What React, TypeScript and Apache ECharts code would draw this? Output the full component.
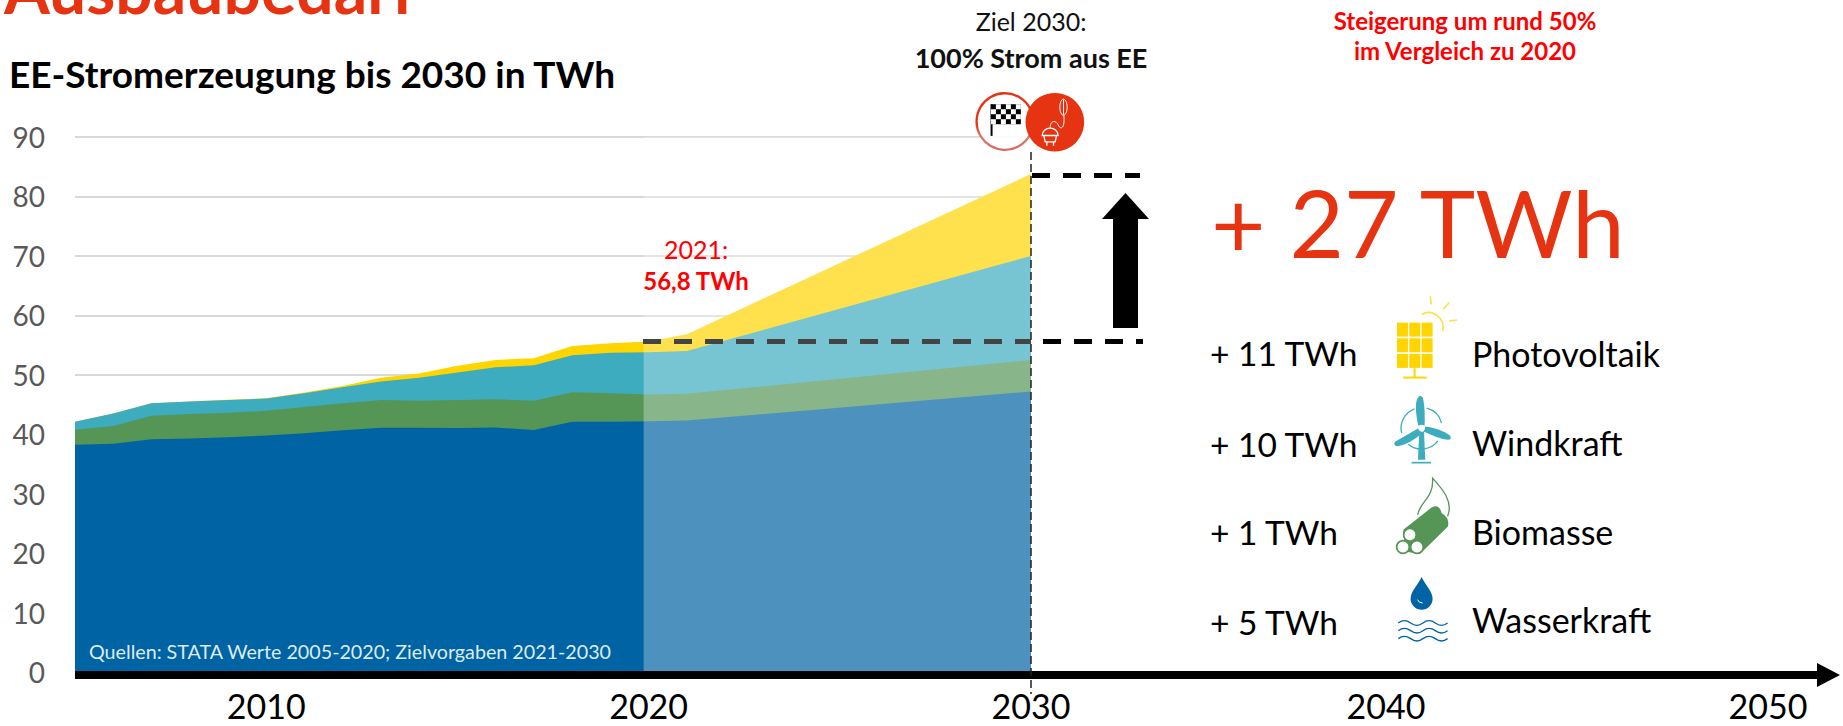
import React, { useEffect, useRef } from "react";
import * as echarts from "echarts";

// ---------- data ----------
const years = [2005, 2006, 2007, 2008, 2009, 2010, 2011, 2012, 2013, 2014, 2015, 2016, 2017, 2018, 2019, 2020, 2021, 2030];
const wasserkraft = [38.25, 38.4, 39.15, 39.3, 39.5, 39.8, 40.15, 40.65, 41.1, 41.1, 41.05, 41.15, 40.7, 42.1, 42.1, 42.2, 42.3, 47.2];
const biomasse = [2.5, 3.0, 3.95, 4.1, 4.1, 4.15, 4.45, 4.55, 4.65, 4.55, 4.7, 4.75, 4.95, 4.95, 4.8, 4.5, 4.5, 5.3];
const windkraft = [1.35, 2.1, 2.1, 2.1, 2.15, 2.05, 2.3, 2.7, 3.1, 3.85, 4.65, 5.35, 5.95, 6.25, 6.8, 7.1, 7.2, 17.5];
const photovoltaik = [0, 0, 0, 0, 0.05, 0.05, 0.1, 0.2, 0.65, 0.7, 1.1, 1.25, 1.2, 1.55, 1.6, 1.8, 2.8, 13.8];
const axisTicks = [2010, 2020, 2030];
const laterTicks = ["2040", "2050"];
const rowDeltas = ["+ 11 TWh", "+ 10 TWh", "+ 1 TWh", "+ 5 TWh"];
const rowNames = ["Photovoltaik", "Windkraft", "Biomasse", "Wasserkraft"];

// ---------- styling ----------
const C_BLUE = "#0063A3";
const C_GREEN = "#559656";
const C_TEAL = "#3DACBF";
const C_YELLOW = "#FFD500";
const C_RED = "#E63312";
const FONT = "Lato";

const paths: Record<string, string> = {
  iSun: "M155 88 A44 44 0 0 1 218 138",
  iWindUp: "M145 422 C137 385 134 350 145 337 Q150 328 158 337 C165 360 165 395 164 422 Z",
  iWindRight: "M165 425 C195 428 225 440 240 452 Q247 462 236 465 C215 465 185 450 160 440 Z",
  iWindLeft: "M145 430 C120 445 90 462 76 470 Q68 480 80 484 C105 482 135 465 155 445 Z",
  iWindTower: "M148 440 L144 525 L166 525 L162 440 Z",
  iWindArcs: "M170 370 A62 62 0 0 1 215 415 M204 468 A62 62 0 0 1 115 478 M95 445 A62 62 0 0 1 134 372",
  iLogs: "M100 735 L185 668 Q208 655 215 685 Q240 700 234 725 L150 808 L105 800 Z",
  iLeaf: "M143 690 C150 650 192 640 188 580 C215 610 252 650 233 695",
  iDrop: "M155 877 C165 900 188 920 188 942 A33 33 0 0 1 122 942 C122 920 145 900 155 877 Z",
  iDropHi: "M143 945 Q146 955 158 955",
  iWaves: "M85 1015 q18 -14 37 0 t37 0 t37 0 t37 0 M85 1038 q18 -14 37 0 t37 0 t37 0 t37 0 M85 1062 q18 -14 37 0 t37 0 t37 0 t37 0",
  iPlug: "M457 407 a24 22 0 0 1 48 0 Z M462 407 L466 426 L496 426 L500 407 M471 426 L471 438 M491 426 L491 438",
  iCord: "M481 385 C481 358 500 362 505 375 C512 392 526 385 522 347 M521 300 L521 345",
};
Object.keys(paths).forEach((k) => {
  echarts.graphic.registerShape(k, echarts.graphic.extendPath(paths[k], {}) as any);
});

const Z = 100;
const txt = (text: string, x: number, y: number, font: string, fill: string, align = "left") => ({
  type: "text",
  z: Z,
  x,
  y,
  style: { text, font, fill, align, verticalAlign: "middle" },
});
const line = (x1: number, y1: number, x2: number, y2: number, stroke: string, lineWidth: number, lineDash?: number[]) => ({
  type: "line",
  z: Z,
  shape: { x1, y1, x2, y2 },
  style: { stroke, lineWidth, lineDash },
});
const rect = (x: number, y: number, width: number, height: number, fill: string) => ({
  type: "rect",
  z: Z,
  shape: { x, y, width, height },
  style: { fill },
});
const poly = (points: number[][], fill: string) => ({ type: "polygon", z: Z, shape: { points }, style: { fill } });
const shp = (type: string, style: any) => ({ type, z: Z, style });
const circ = (cx: number, cy: number, r: number, style: any) => ({ type: "circle", z: Z, shape: { cx, cy, r }, style });

function buildFlagGroup() {
  const cells: any[] = [rect(303, 313, 90, 60, "#000")];
  for (let r = 0; r < 4; r++) for (let c = 0; c < 6; c++) if ((r + c) % 2) cells.push(rect(303 + c * 15, 313 + r * 15, 15, 15, "#fff"));
  return {
    type: "group",
    x: 890,
    y: 0,
    scaleX: 1 / 3,
    scaleY: 1 / 3,
    children: [
      circ(345, 365, 85, {
        fill: "rgba(255,255,255,0.85)",
        lineWidth: 7,
        stroke: new echarts.graphic.LinearGradient(0, 0, 0, 1, [
          { offset: 0, color: C_RED },
          { offset: 0.55, color: C_RED },
          { offset: 0.75, color: "#DB7A70" },
          { offset: 1, color: "#DB6A60" },
        ]),
      }),
      rect(302, 313, 6, 95, "#000"),
      ...cells,
      circ(495, 367, 88, { fill: C_RED }),
      shp("iPlug", { fill: "none", stroke: "#fff", lineWidth: 4 }),
      shp("iCord", { fill: "none", stroke: "#fff", lineWidth: 3 }),
      { type: "ellipse", z: Z, shape: { cx: 521, cy: 322, rx: 11, ry: 24 }, style: { fill: "none", stroke: "#fff", lineWidth: 3 } },
    ],
  };
}

function buildIconGroup() {
  const cells: any[] = [];
  for (let r = 0; r < 3; r++) for (let c = 0; c < 3; c++) cells.push(rect(81 + c * 37, 113 + r * 47, 33, 42, C_YELLOW));
  return {
    type: "group",
    x: 1370,
    y: 285,
    scaleX: 1 / 3,
    scaleY: 1 / 3,
    children: [
      ...cells,
      rect(131, 250, 6, 28, C_YELLOW),
      rect(100, 275, 70, 6, C_YELLOW),
      shp("iSun", { fill: "none", stroke: "#FFE04A", lineWidth: 5 }),
      line(181, 33, 184, 58, "#FFE04A", 5),
      line(238, 53, 220, 72, "#FFE04A", 5),
      line(262, 105, 237, 108, "#FFE04A", 5),

      shp("iWindArcs", { fill: "none", stroke: C_TEAL, lineWidth: 4 }),
      shp("iWindTower", { fill: C_TEAL }),
      shp("iWindUp", { fill: C_TEAL }),
      shp("iWindRight", { fill: C_TEAL }),
      shp("iWindLeft", { fill: C_TEAL }),
      circ(155, 430, 10, { fill: "#fff" }),
      rect(125, 531, 58, 5, C_TEAL),

      shp("iLeaf", { fill: "none", stroke: C_GREEN, lineWidth: 4 }),
      shp("iLogs", { fill: C_GREEN }),
      circ(120, 750, 19, { fill: "#fff", stroke: C_GREEN, lineWidth: 5 }),
      circ(99, 787, 19, { fill: "#fff", stroke: C_GREEN, lineWidth: 5 }),
      circ(141, 787, 19, { fill: "#fff", stroke: C_GREEN, lineWidth: 5 }),

      shp("iDrop", { fill: C_BLUE }),
      shp("iDropHi", { fill: "none", stroke: "#fff", lineWidth: 3 }),
      shp("iWaves", { fill: "none", stroke: C_BLUE, lineWidth: 4 }),
    ],
  };
}

const rowY = [353, 444, 532, 622];
const nameY = [353, 442, 531, 619];

function buildGraphic() {
  return [
    // titles
    txt("Ausbaubedarf", 4, -12, `bold 66px ${FONT}`, C_RED),
    txt("EE-Stromerzeugung bis 2030 in TWh", 9, 73, `bold 37px ${FONT}`, "#000"),
    txt("Ziel 2030:", 1031, 21, `25px ${FONT}`, "#111", "center"),
    txt("100% Strom aus EE", 1031, 57, `bold 27px ${FONT}`, "#111", "center"),
    txt("Steigerung um rund 50%", 1465, 20, `bold 24px ${FONT}`, "#FF0000", "center"),
    txt("im Vergleich zu 2020", 1465, 50, `bold 24px ${FONT}`, "#FF0000", "center"),
    txt("2021:", 696, 249, `25px ${FONT}`, "#FF0000", "center"),
    txt("56,8 TWh", 696, 280, `bold 24px ${FONT}`, "#FF0000", "center"),
    txt("Quellen: STATA Werte 2005-2020; Zielvorgaben 2021-2030", 89, 651, `19.7px ${FONT}`, "#DDEBF4"),
    // time arrow
    rect(75, 671, 1742, 8, "#000"),
    poly([[1817, 663], [1840, 675], [1817, 687]], "#000"),
    ...laterTicks.map((t, i) => txt(t, [1386, 1768][i], 705, `34px ${FONT}`, "#000", "center")),
    // 2030 marker
    line(1031, 152, 1031, 694, "#222", 1.5, [8, 4]),
    // baseline / target dashes
    line(643, 341.5, 1031, 341.5, "#444", 5, [18, 13]),
    line(1043, 341.5, 1143, 341.5, "#000", 5, [18, 13]),
    line(1032, 175.5, 1140, 175.5, "#000", 5, [18, 13]),
    // black up arrow
    rect(1113, 218, 25, 110, "#000"),
    poly([[1102, 219], [1125.5, 193], [1149, 219]], "#000"),
    // big number
    txt("+ 27 TWh", 1211, 221, `94px ${FONT}`, C_RED),
    ...rowDeltas.map((t, i) => txt(t, 1210, rowY[i], `33.5px ${FONT}`, "#000")),
    ...rowNames.map((t, i) => txt(t, 1472, nameY[i], `34px ${FONT}`, "#000")),
    buildFlagGroup(),
    buildIconGroup(),
  ];
}

// Each layer is filled from zero up to the running total of the layers below it.
const layers = [
  { name: "Wasserkraft", vals: wasserkraft, color: C_BLUE },
  { name: "Biomasse", vals: biomasse, color: C_GREEN },
  { name: "Windkraft", vals: windkraft, color: C_TEAL },
  { name: "Photovoltaik", vals: photovoltaik, color: C_YELLOW },
];
const running = years.map(() => 0);
const areaSeries = layers
  .map((l, li) => {
    const data = years.map((y, i) => {
      running[i] += l.vals[i];
      return [y, Number(running[i].toFixed(2))];
    });
    return {
      name: l.name,
      type: "line",
      data,
      showSymbol: false,
      symbol: "none",
      lineStyle: { width: 0 },
      areaStyle: { color: l.color, opacity: 1 },
      itemStyle: { color: l.color },
      z: 2 + (layers.length - li) / 10,
    };
  })
  .reverse();

export default function App() {
  const ref = useRef<HTMLDivElement>(null);
  useEffect(() => {
    document.body.style.margin = "0";
    document.body.style.overflow = "hidden";
    const chart = echarts.init(ref.current!, undefined, { renderer: "svg" });
    chart.setOption({
      animation: false,
      grid: { left: 75, top: 137, width: 956, height: 535, containLabel: false },
      xAxis: {
        type: "value",
        min: 2005,
        max: 2030,
        axisLine: { show: false },
        axisTick: { show: false },
        splitLine: { show: false },
        axisLabel: {
          customValues: axisTicks,
          formatter: (v: number) => String(v),
          fontFamily: FONT,
          fontSize: 34,
          lineHeight: 34,
          color: "#000",
          margin: 16,
          hideOverlap: false,
        },
      },
      yAxis: {
        type: "value",
        min: 0,
        max: 90,
        interval: 10,
        axisLine: { show: false },
        axisTick: { show: false },
        splitLine: { lineStyle: { color: "#D9D9D9", width: 2 } },
        axisLabel: { fontFamily: FONT, fontSize: 28, color: "#595959", margin: 30, padding: [3, 0, 0, 0] },
      },
      series: [
        ...areaSeries,
        {
          name: "Zielvorgaben",
          type: "line",
          data: [[2020, 0], [2030, 0]],
          symbol: "none",
          lineStyle: { width: 0 },
          z: 5,
          silent: true,
          markArea: {
            z: 10,
            silent: true,
            itemStyle: { color: "rgba(255,255,255,0.3)" },
            data: [[{ xAxis: 2019.87 }, { xAxis: 2030 }]],
          },
        },
      ],
      graphic: { elements: buildGraphic() },
    });
    return () => chart.dispose();
  }, []);
  return <div ref={ref} style={{ width: 1843, height: 726 }} />;
}
